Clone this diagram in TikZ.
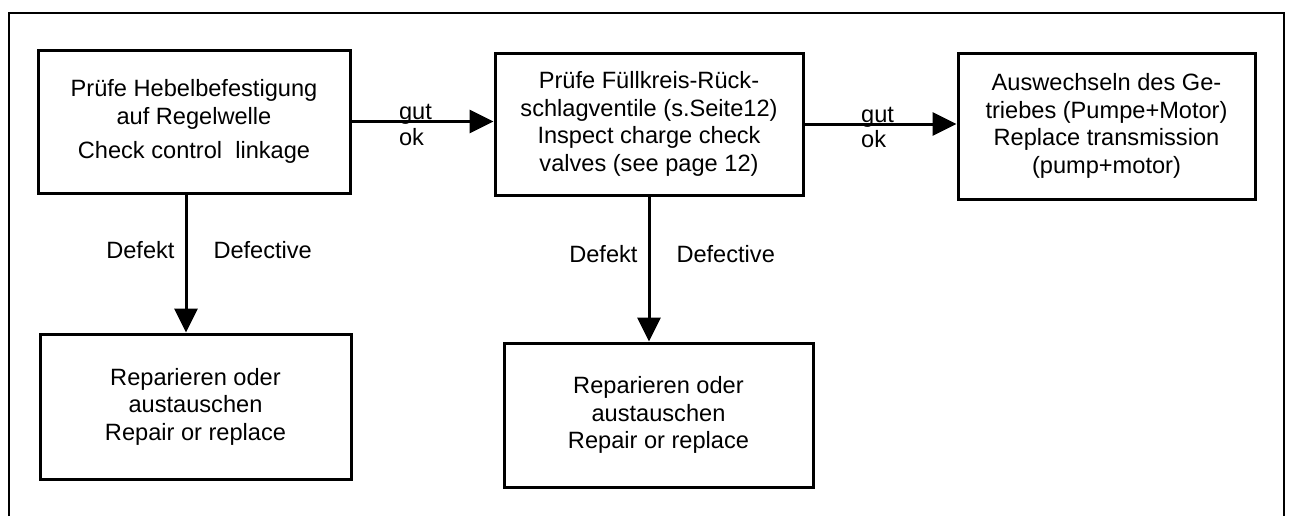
\documentclass[tikz,border=0pt]{standalone}
\usepackage{fontspec}
\setmainfont{Liberation Sans}
\usetikzlibrary{arrows.meta}

\begin{document}
\begin{tikzpicture}[x=0.5pt,y=-0.5pt,
        box/.style={draw,line width=1.5pt,align=center,font=\fontsize{11.8}{13.8}\selectfont},
        flow/.style={line width=1.5pt,-{Triangle[length=12pt,width=11.5pt]}},
        lbl/.style={font=\fontsize{11.8}{13.8}\selectfont,inner sep=1pt}]
            \useasboundingbox (0,0) rectangle (1290,516);
            % Frame, open at the bottom
            \draw[line width=1.3pt] (9,516) -- (9,13) -- (1284,13) -- (1284,516);

            % Boxes
            \node[box,minimum width=156pt,minimum height=71.5pt] (check) at (194,121.5)
                {Prüfe Hebelbefestigung\\auf Regelwelle\\[3.5pt]Check control\ \ linkage};
            \node[box,minimum width=154pt,minimum height=71pt] (valves) at (649,124)
                {Prüfe Füllkreis-Rück-\\schlagventile (s.Seite12)\\Inspect charge check\\valves (see page 12)};
            \node[box,minimum width=148.5pt,minimum height=73pt] (replace) at (1106.5,126)
                {Auswechseln des Ge-\\triebes (Pumpe+Motor)\\Replace transmission\\(pump+motor)};
            \node[box,minimum width=155.5pt,minimum height=72.5pt] (repairA) at (195.5,406.5)
                {Reparieren oder\\austauschen\\Repair or replace};
            \node[box,minimum width=154.5pt,minimum height=72pt] (repairB) at (658.5,415)
                {Reparieren oder\\austauschen\\Repair or replace};

            % Connectors
            \draw[flow] (check) -- (check -| valves.west)
                node[lbl,pos=0.31,anchor=base west,yshift=1pt] {gut}
                node[lbl,pos=0.31,anchor=north west,yshift=-1.5pt] {ok};
            \draw[flow] (valves) -- (valves -| replace.west)
                node[lbl,pos=0.35,anchor=base west,yshift=1pt] {gut}
                node[lbl,pos=0.35,anchor=north west,yshift=-1.5pt] {ok};
            \draw[flow] ([xshift=-4pt]check.south) -- ([xshift=-4pt]check.south |- repairA.north)
                node[lbl,pos=0.4,left,xshift=-4pt] {Defekt}
                node[lbl,pos=0.4,right,xshift=12pt] {Defective};
            \draw[flow] (valves.south) -- (valves.south |- repairB.north)
                node[lbl,pos=0.4,left,xshift=-4pt] {Defekt}
                node[lbl,pos=0.4,right,xshift=12pt] {Defective};
        \end{tikzpicture}
\end{document}
